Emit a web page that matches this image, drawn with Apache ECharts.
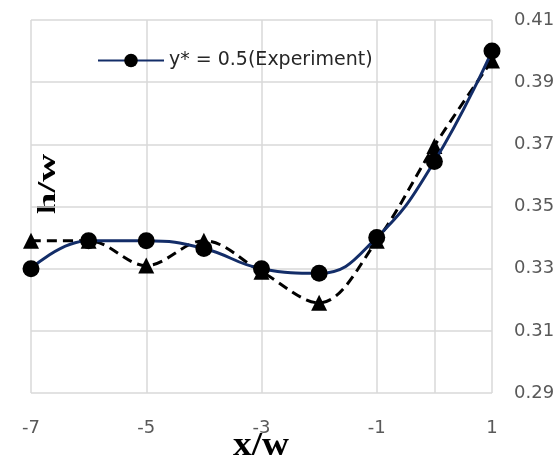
<!DOCTYPE html>
<html>
<head>
<meta charset="utf-8">
<script src="https://cdn.jsdelivr.net/npm/echarts@6/dist/echarts.min.js"></script>
<style>
  html, body { margin: 0; padding: 0; background: #ffffff; }
  #chart { width: 556px; height: 457px; }
</style>
</head>
<body>
<div id="chart"></div>
<script>
// Stream-wise positions (x/w) and the two measured depth profiles (h/w)
const xPositions = [-7, -6, -5, -4, -3, -2, -1, 0, 1];
const experimentValues = [0.330, 0.339, 0.339, 0.3365, 0.330, 0.3285, 0.340, 0.3645, 0.400];
const comparisonValues = [0.339, 0.339, 0.331, 0.339, 0.329, 0.319, 0.339, 0.3695, 0.397];

// Axis ticks and gridlines
const xTickLabels = [-7, -5, -3, -1, 1];
const xGridValues = [-7, -5, -3, -1, 0, 1];
const yTickValues = [0.29, 0.31, 0.33, 0.35, 0.37, 0.39, 0.41];

const experimentName = 'y* = 0.5(Experiment)';
const comparisonName = 'y* = 0.5';

const pairs = (vals) => xPositions.map((x, i) => [x, vals[i]]);

const GRID_COLOR = '#d9d9d9';
const LABEL_COLOR = '#595959';
const LABEL_FONT = 'DejaVu Sans';

const chart = echarts.init(document.getElementById('chart'), null, { renderer: 'canvas' });

chart.setOption({
  backgroundColor: '#ffffff',
  animation: false,
  grid: { left: 31, right: 64, top: 20, bottom: 64, containLabel: false, outerBoundsMode: 'none' },
  legend: {
    data: [experimentName],
    left: 97,
    top: 51,
    padding: 0,
    itemWidth: 66,
    itemHeight: 17,
    itemGap: 5,
    textStyle: { fontFamily: LABEL_FONT, fontSize: 19, color: '#262626' }
  },
  xAxis: {
    type: 'value',
    min: -7,
    max: 1,
    axisLine: { show: false },
    axisTick: { show: false },
    splitLine: { show: false },
    axisLabel: {
      customValues: xTickLabels,
      margin: 26,
      fontFamily: LABEL_FONT,
      fontSize: 18,
      color: LABEL_COLOR
    }
  },
  yAxis: [
    {
      type: 'value',
      position: 'right',
      min: 0.29,
      max: 0.41,
      axisLine: { show: false },
      axisTick: { show: false },
      splitLine: { show: false },
      axisLabel: {
        customValues: yTickValues,
        formatter: (v) => v.toFixed(2),
        margin: 22,
        fontFamily: LABEL_FONT,
        fontSize: 18,
        color: LABEL_COLOR
      }
    },
    {
      type: 'value',
      position: 'left',
      min: 0.29,
      max: 0.41,
      axisLine: { show: false },
      axisTick: { show: false },
      splitLine: { show: false },
      axisLabel: {
        customValues: yTickValues,
        formatter: (v) => v.toFixed(2),
        margin: 30,
        fontFamily: LABEL_FONT,
        fontSize: 18,
        color: LABEL_COLOR
      }
    }
  ],
  graphic: [
    {
      type: 'text',
      x: 261,
      y: 446,
      scaleX: 1.13,
      style: {
        text: 'x/w',
        font: 'bold 33px "Liberation Serif"',
        fill: '#000000',
        align: 'center',
        verticalAlign: 'middle'
      }
    },
    {
      type: 'text',
      x: 49,
      y: 184,
      rotation: Math.PI / 2,
      scaleX: 1.55,
      style: {
        text: 'h/w',
        font: 'bold 25px "Liberation Serif"',
        fill: '#000000',
        align: 'center',
        verticalAlign: 'middle'
      }
    }
  ],
  series: [
    {
      // plot-area gridlines, placed through the axis scales
      name: 'grid',
      type: 'line',
      data: [],
      silent: true,
      z: 1,
      markLine: {
        silent: true,
        z: 1,
        symbol: 'none',
        label: { show: false },
        emphasis: { disabled: true },
        lineStyle: { type: 'solid', color: GRID_COLOR, width: 1.5 },
        data: [
          ...xGridValues.map((v) => ({ xAxis: v })),
          ...yTickValues.map((v) => ({ yAxis: v }))
        ]
      }
    },
    {
      name: comparisonName,
      type: 'line',
      yAxisIndex: 0,
      data: pairs(comparisonValues),
      smooth: 0.35,
      symbol: 'triangle',
      symbolSize: 16,
      itemStyle: { color: '#000000' },
      lineStyle: { color: '#000000', width: 3, type: [10, 6] },
      z: 2
    },
    {
      name: experimentName,
      type: 'line',
      yAxisIndex: 0,
      data: pairs(experimentValues),
      smooth: 0.45,
      symbol: 'circle',
      symbolSize: 17,
      itemStyle: { color: '#000000' },
      lineStyle: { color: '#132d68', width: 3 },
      z: 3
    }
  ]
});
</script>
</body>
</html>
